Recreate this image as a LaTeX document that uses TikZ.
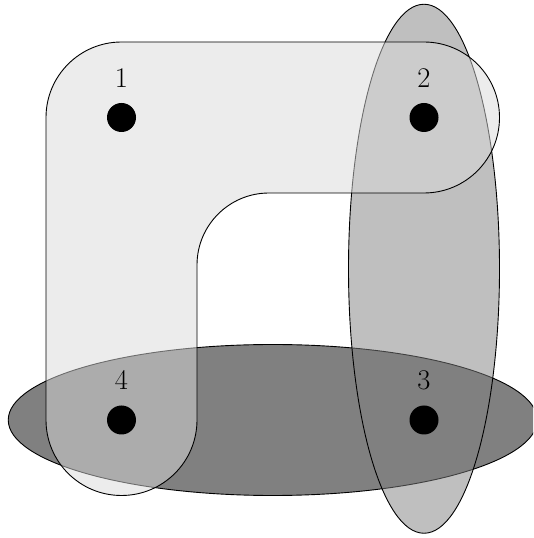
\documentclass[tikz,border=0pt]{standalone}
\begin{document}
\begin{tikzpicture}[x=1pt,y=1pt,
  edgeline/.style={draw=black, line width=0.9pt},
  vertexdot/.style={circle, fill=black, minimum size=29pt, inner sep=0pt},
  vlabel/.style={anchor=base, inner sep=0pt, font=\fontsize{28.5}{34}\selectfont}]
\useasboundingbox (0,0) rectangle (533,538);
\clip (0,0) rectangle (533,538);
% hyperedge {3,4}
\draw[edgeline, fill=black!50] (272.75,118) ellipse [x radius=264.5, y radius=75.5];
% hyperedge {2,3}
\draw[edgeline, fill=black!50, fill opacity=0.5] (424,269.25) ellipse [x radius=75.5, y radius=264.5];
% hyperedge {1,2,4}
\draw[edgeline, fill=black!15, fill opacity=0.5]
  (46,118) -- (46,420.5)
  arc[start angle=180, end angle=90, radius=75.5] -- (424,496)
  arc[start angle=90, end angle=-90, radius=75.5] -- (269,345)
  arc[start angle=90, end angle=180, radius=72] -- (197,118)
  arc[start angle=0, end angle=-180, radius=75.5] -- cycle;
% vertices
\node[vertexdot] (v1) at (121.5,420.5) {};
\node[vertexdot] (v2) at (424,420.5) {};
\node[vertexdot] (v3) at (424,118) {};
\node[vertexdot] (v4) at (121.5,118) {};
\node[vlabel] (l1) at ([yshift=30pt]v1.center) {1};
\node[vlabel] (l2) at ([yshift=30pt]v2.center) {2};
\node[vlabel] (l3) at ([yshift=30pt]v3.center) {3};
\node[vlabel] (l4) at ([yshift=30pt]v4.center) {4};
\end{tikzpicture}
\end{document}
